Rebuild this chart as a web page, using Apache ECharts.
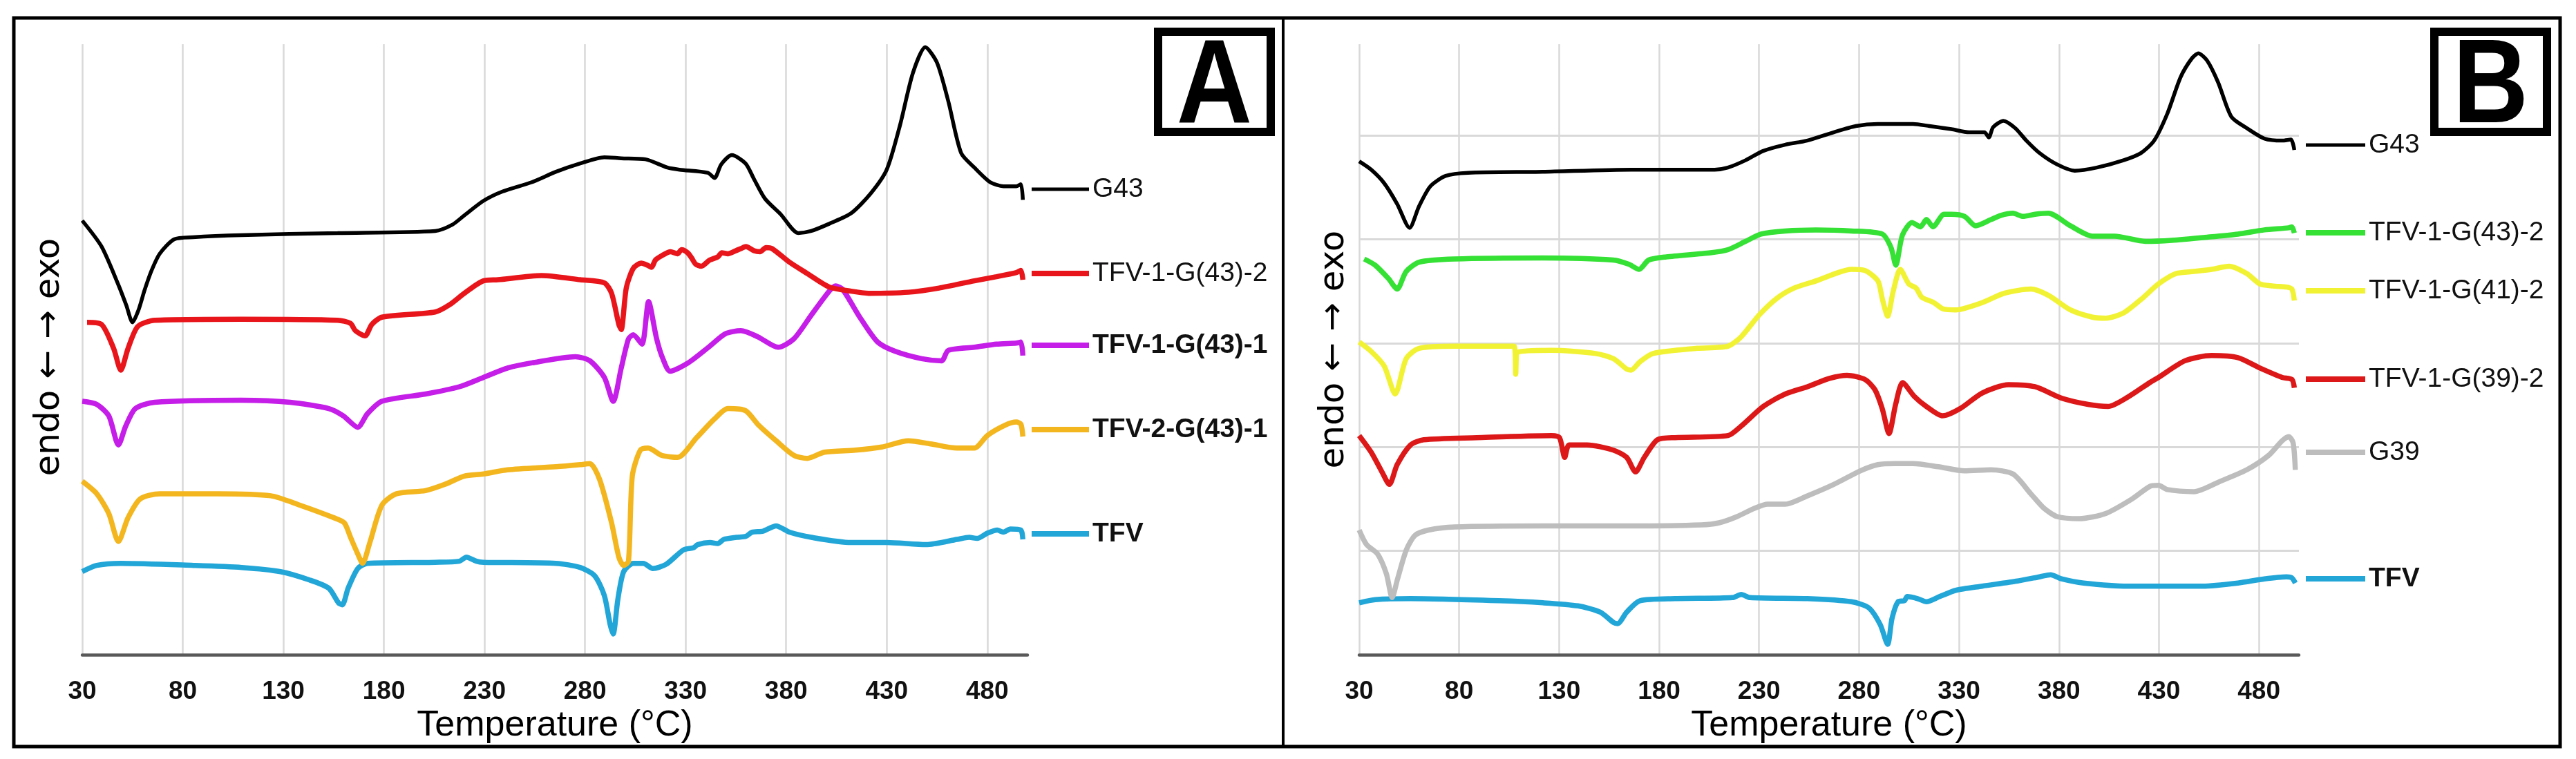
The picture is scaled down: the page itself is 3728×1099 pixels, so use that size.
<!DOCTYPE html>
<html>
<head>
<meta charset="utf-8">
<title>DSC thermograms A / B</title>
<script src="https://cdn.jsdelivr.net/npm/echarts@6/dist/echarts.min.js"></script>
<style>
  * { margin: 0; padding: 0; }
  html, body { background: #fff; }
  #main { width: 3728px; height: 1099px; }
</style>
</head>
<body>
<div id="main"></div>
<script>
// x axis: temperature in °C, labelled every 50 from 30
var xTicks = [30, 80, 130, 180, 230, 280, 330, 380, 430, 480];
var tMax = 500;
// y: heat flow, arbitrary units (curves are stacked with offsets), gridlines of panel B
var yGridB = [1, 2, 3, 4, 5];
var yMax = 5.878;

// ---- panel A ----
var a_G43 = [[30,4.18],[39.6,3.93],[48,3.56],[52,3.36],[55,3.20],[58,3.32],[61,3.51],[64.5,3.70],[68.5,3.86],[75.7,4.00],[85,4.02],[109,4.04],[157,4.06],[205.5,4.08],[214,4.14],[220,4.23],[229.5,4.37],[239,4.46],[253.6,4.55],[265.6,4.65],[277.6,4.73],[289.6,4.79],[298,4.78],[310,4.77],[321,4.69],[327,4.67],[341,4.64],[344.4,4.59],[347.7,4.72],[353,4.81],[359.8,4.73],[364,4.58],[369.5,4.39],[377.3,4.24],[386,4.06],[392.5,4.08],[401.5,4.15],[412.3,4.25],[422,4.44],[430,4.67],[436.5,5.09],[443,5.60],[449.2,5.85],[455,5.70],[460.6,5.33],[467,4.83],[473.6,4.69],[481.4,4.55],[488,4.51],[494.5,4.51],[496.7,4.53],[497.7,4.38]];
var a_T1G43_2 = [[32.4,3.20],[39.6,3.18],[45.6,2.95],[49.2,2.74],[52.8,2.95],[57.6,3.16],[66,3.22],[109,3.23],[157,3.22],[163.4,3.19],[165.8,3.12],[170.6,3.07],[174,3.18],[179,3.25],[205.5,3.30],[212.7,3.37],[220,3.48],[229.5,3.60],[236.7,3.61],[258.4,3.65],[277.6,3.61],[289.6,3.58],[293.2,3.48],[296.8,3.18],[298,3.13],[300.5,3.53],[304,3.72],[308,3.77],[311,3.75],[313,3.73],[315,3.80],[318,3.84],[322.5,3.88],[326,3.86],[328,3.90],[331,3.87],[333,3.82],[335,3.76],[337.8,3.74],[342,3.80],[346,3.83],[348,3.87],[351,3.86],[355,3.89],[357.5,3.91],[360,3.93],[364,3.89],[367,3.88],[370,3.92],[373,3.91],[381.6,3.78],[390.5,3.67],[401.4,3.54],[412.3,3.50],[421,3.48],[440.8,3.49],[456,3.53],[473.6,3.60],[484.6,3.64],[494.5,3.68],[496.7,3.70],[497.7,3.61]];
var a_T1G43_1 = [[30,2.44],[37.2,2.41],[43.2,2.30],[48,2.02],[51.6,2.20],[56.4,2.37],[66,2.43],[109,2.45],[133.4,2.43],[152.6,2.37],[159.8,2.30],[167,2.19],[171.8,2.32],[179,2.44],[200.7,2.51],[217.5,2.58],[229.5,2.67],[241.5,2.76],[253.6,2.81],[275.2,2.87],[282.4,2.83],[289.6,2.67],[294,2.44],[298,2.76],[301.6,3.04],[304,3.08],[308.3,2.99],[311.6,3.40],[315.5,3.05],[318.5,2.86],[322.3,2.73],[331.3,2.81],[342,2.97],[349.7,3.09],[357.5,3.12],[366,3.06],[376,2.96],[383.8,3.04],[392.5,3.27],[401.4,3.50],[404.6,3.55],[408,3.52],[416.6,3.25],[425.5,3.01],[434.3,2.92],[447.4,2.85],[457.3,2.83],[460.6,2.93],[473.6,2.96],[484.6,2.99],[494.5,3.00],[496.7,3.01],[497.7,2.88]];
var a_T2G43_1 = [[30,1.67],[37.2,1.55],[43.2,1.36],[48,1.09],[52.8,1.32],[58.8,1.50],[68.5,1.55],[97.3,1.55],[123.8,1.53],[138.2,1.44],[155,1.32],[160.3,1.27],[163.4,1.13],[167,0.97],[169.4,0.88],[173,1.08],[179,1.44],[186.3,1.55],[200.7,1.58],[210.3,1.64],[220,1.72],[229.5,1.74],[241.5,1.78],[265.6,1.81],[277.6,1.83],[282.4,1.84],[287.2,1.69],[293.2,1.27],[296.8,0.94],[299.2,0.86],[301.6,0.90],[303.5,1.72],[307.5,1.97],[311.4,1.99],[318,1.92],[326,1.90],[335.5,2.09],[344.4,2.27],[351,2.37],[359.8,2.35],[366.3,2.21],[375,2.06],[383.8,1.92],[390.5,1.89],[399,1.95],[414.5,1.97],[427.6,2.00],[440.8,2.06],[451.8,2.03],[465,1.99],[473.6,1.99],[480,2.11],[488.9,2.21],[494.5,2.24],[496.7,2.22],[497.7,2.10]];
var a_TFV = [[30,0.80],[37.2,0.86],[49.2,0.88],[85.3,0.86],[109.3,0.84],[128.6,0.80],[143,0.72],[152.6,0.64],[157.4,0.50],[159.3,0.48],[162.2,0.64],[167,0.83],[171.8,0.88],[205.5,0.89],[217.5,0.90],[221,0.94],[226,0.90],[229.5,0.89],[265.6,0.88],[277.6,0.84],[284.8,0.76],[289.6,0.57],[292.5,0.29],[294,0.20],[296.3,0.53],[299.2,0.80],[304,0.88],[309,0.88],[313.7,0.83],[320.3,0.87],[329,1.01],[334,1.03],[336,1.06],[342.2,1.08],[346,1.07],[349,1.11],[355.3,1.13],[360,1.14],[363,1.18],[368.5,1.19],[375,1.24],[381.6,1.18],[392.5,1.13],[412.3,1.08],[430,1.08],[449.5,1.06],[465,1.11],[471,1.13],[475,1.12],[480,1.17],[485,1.20],[488,1.18],[491.5,1.21],[496.7,1.20],[497.7,1.11]];

// ---- panel B ----
var b_G43 = [[30,4.75],[36,4.67],[42.5,4.54],[49,4.34],[55.2,4.11],[60,4.32],[65.6,4.51],[73.3,4.61],[84.4,4.64],[121.8,4.65],[166,4.67],[207.8,4.67],[214.4,4.69],[223.2,4.76],[232,4.85],[243,4.91],[254,4.95],[267.3,5.03],[278.4,5.09],[289.4,5.11],[307,5.11],[315.2,5.09],[326.2,5.06],[335,5.03],[342.7,5.03],[344.9,4.98],[347.1,5.08],[352.2,5.14],[358.1,5.07],[363.7,4.95],[370.3,4.83],[379.1,4.72],[387.9,4.66],[398.9,4.69],[412.2,4.76],[421,4.83],[427.6,4.95],[434.2,5.21],[440.8,5.56],[446.4,5.74],[449.7,5.79],[454.1,5.72],[459.6,5.51],[466.2,5.18],[473.9,5.07],[482.7,4.97],[491.6,4.95],[496,4.96],[497.7,4.86]];
var b_T1G43_2 = [[32.5,3.81],[38,3.75],[44.7,3.62],[49,3.52],[53.5,3.69],[60,3.78],[77.7,3.81],[121.8,3.82],[157,3.80],[164.8,3.76],[170,3.71],[174.8,3.80],[183.6,3.83],[205.7,3.87],[214.5,3.90],[223.3,3.98],[231,4.05],[243.1,4.08],[258.5,4.09],[276.2,4.08],[291.6,4.05],[296,3.92],[298.4,3.75],[301.7,4.04],[306.5,4.16],[310.7,4.12],[313.7,4.19],[317,4.12],[322.5,4.24],[326.2,4.24],[332.8,4.22],[338.3,4.13],[346,4.19],[351,4.23],[357,4.25],[362,4.22],[368,4.24],[374.7,4.25],[385.7,4.13],[396.7,4.03],[407.8,4.03],[423.2,3.98],[436.4,3.99],[454.1,4.02],[469.5,4.05],[482.7,4.09],[494.9,4.11],[496.5,4.12],[497.7,4.06]];
var b_T1G41_2 = [[30,3.01],[36,2.92],[42.5,2.78],[48,2.51],[53.5,2.85],[60,2.95],[77.7,2.97],[107.5,2.97],[108.3,2.70],[109.2,2.91],[126.3,2.93],[148.3,2.90],[157.2,2.85],[163.8,2.75],[166,2.74],[170.4,2.82],[177,2.90],[199,2.95],[214.4,2.97],[221,3.06],[230,3.27],[238.8,3.43],[247.5,3.53],[258.6,3.60],[269.6,3.68],[276.2,3.71],[282.8,3.70],[289.4,3.60],[291.6,3.43],[294.3,3.26],[297.1,3.50],[300.6,3.71],[304.9,3.57],[308.5,3.53],[311.5,3.44],[317.4,3.39],[322,3.33],[328.4,3.32],[341.6,3.39],[352.6,3.48],[365.9,3.52],[374.7,3.46],[385.7,3.32],[396.7,3.25],[403.4,3.24],[412.2,3.29],[421,3.42],[429.8,3.57],[438.6,3.67],[447.5,3.69],[456.3,3.71],[465.1,3.74],[473.9,3.67],[480.5,3.57],[487.1,3.55],[493.8,3.54],[496.5,3.52],[497.7,3.41]];
var b_T1G39_2 = [[30,2.11],[36,1.95],[41.4,1.76],[45.1,1.64],[49,1.83],[55.7,2.02],[62.3,2.07],[88.8,2.09],[126.2,2.11],[130.2,2.09],[132.8,1.90],[135,2.02],[143.9,2.02],[157.1,1.97],[163.8,1.90],[168.2,1.76],[172.6,1.90],[179.2,2.07],[188,2.09],[214.5,2.11],[221,2.20],[232.1,2.39],[243.1,2.51],[254.2,2.58],[265.2,2.66],[274,2.69],[283,2.65],[288,2.55],[291.6,2.37],[295,2.13],[298.3,2.41],[301.8,2.62],[307.5,2.49],[313.7,2.39],[321.8,2.30],[330.6,2.37],[341.6,2.52],[354.8,2.60],[368,2.58],[381.3,2.47],[394.5,2.41],[404.5,2.39],[414.4,2.48],[425.4,2.62],[429.8,2.67],[443,2.83],[456.3,2.88],[469.5,2.86],[480.5,2.76],[491.6,2.67],[496.5,2.65],[497.7,2.57]];
var b_G39 = [[30,1.20],[33.7,1.06],[39.2,0.97],[43.6,0.78],[46.5,0.55],[49.2,0.73],[53.6,1.01],[58,1.15],[64.6,1.20],[77.8,1.23],[121.9,1.24],[166,1.24],[201.2,1.25],[210,1.27],[219,1.33],[227.7,1.41],[234.3,1.45],[243.1,1.45],[254.2,1.53],[267.4,1.64],[280.6,1.77],[289.4,1.83],[298.2,1.84],[307,1.84],[319.6,1.81],[332.8,1.77],[346,1.78],[357,1.74],[365.9,1.55],[372.5,1.41],[379.1,1.33],[390.1,1.31],[403.4,1.36],[416.6,1.50],[425.4,1.62],[429.8,1.63],[434.2,1.59],[447.5,1.57],[460.7,1.67],[473.9,1.78],[484.9,1.92],[491.6,2.06],[494.9,2.10],[497.1,2.04],[498.2,1.78]];
var b_TFV = [[30,0.50],[38.1,0.53],[55.7,0.54],[99.8,0.52],[121.9,0.50],[139.5,0.47],[150.6,0.41],[157.2,0.31],[159.3,0.30],[163.8,0.41],[170.4,0.52],[188,0.54],[216.7,0.55],[221.1,0.58],[225.5,0.55],[254.2,0.54],[276.2,0.51],[285,0.45],[290.6,0.29],[294.3,0.10],[296.5,0.35],[299.5,0.51],[302.7,0.52],[304.1,0.56],[309.3,0.54],[313.7,0.51],[320.3,0.56],[328.4,0.62],[341.6,0.66],[359.3,0.71],[370.3,0.75],[375.8,0.77],[381.3,0.73],[392.3,0.69],[414.4,0.66],[436.4,0.66],[451.9,0.66],[469.5,0.69],[482.7,0.73],[493.8,0.75],[496.5,0.74],[498.2,0.69]];

var FONT = "'Liberation Sans', Arial, sans-serif";

// curve list per panel: [series name, data, colour, width, bold key text]
var curvesA = [
  ['G43', a_G43, '#000000', 5.5, false],
  ['TFV-1-G(43)-2', a_T1G43_2, '#e8161b', 7.5, false],
  ['TFV-1-G(43)-1', a_T1G43_1, '#c41ee8', 7.5, true],
  ['TFV-2-G(43)-1', a_T2G43_1, '#f3b61f', 7.5, true],
  ['TFV', a_TFV, '#22a6d8', 7.5, true]
];
var curvesB = [
  ['G43', b_G43, '#000000', 5.5, false],
  ['TFV-1-G(43)-2', b_T1G43_2, '#36e136', 7.5, false],
  ['TFV-1-G(41)-2', b_T1G41_2, '#f2f234', 7.5, false],
  ['TFV-1-G(39)-2', b_T1G39_2, '#dc1818', 7.5, false],
  ['G39', b_G39, '#bdbdbd', 7.5, false],
  ['TFV', b_TFV, '#22a6d8', 7.5, true]
];
// key (legend) vertical centres in pixels
var keyYA = [274, 396, 500, 622, 773];
var keyYB = [210, 337, 421, 549, 655, 838];

var chart = echarts.init(document.getElementById('main'));

function xAxisFor(gi) {
  return {
    gridIndex: gi, type: 'value', min: xTicks[0], max: tMax,
    interval: xTicks[1] - xTicks[0],
    axisLine: { show: true, onZero: false, lineStyle: { color: '#595959', width: 4.5 } },
    axisTick: { show: false },
    axisLabel: { margin: 35, fontSize: 37, fontWeight: 'bold', color: '#111',
                 fontFamily: FONT, showMaxLabel: false },
    splitLine: { show: true, showMaxLine: false, lineStyle: { color: '#d9d9d9', width: 2.5 } },
    name: 'Temperature (°C)', nameLocation: 'middle', nameGap: 68,
    nameTextStyle: { fontSize: 52, color: '#000', fontFamily: FONT }
  };
}

var series = [];
var legends = [];
function addPanel(tag, curves, keyY, gi, keyLeft, keyW) {
  curves.forEach(function (c, i) {
    var nm = tag + '|' + c[0];
    series.push({
      name: nm, type: 'line', xAxisIndex: gi, yAxisIndex: gi,
      data: c[1], showSymbol: false, smooth: 0.25,
      color: c[2], lineStyle: { color: c[2], width: c[3] },
      emphasis: { disabled: true }, z: 10 - i
    });
    legends.push({
      data: [nm], left: keyLeft, top: keyY[i] - 22, padding: 0,
      selectedMode: false, icon: 'rect', itemWidth: keyW,
      itemHeight: c[2] === '#000000' ? 5 : 8,
      formatter: function (n) { return n.split('|')[1]; },
      textStyle: { fontSize: 39, lineHeight: 44, color: '#111', fontFamily: FONT,
                   fontWeight: c[4] ? 'bold' : 'normal' }
    });
  });
}
addPanel('A', curvesA, keyYA, 0, 1493, 83);
addPanel('B', curvesB, keyYB, 1, 3337, 86);

function yTitle(x, y) {
  return { type: 'text', x: x, y: y, rotation: Math.PI / 2,
    style: { text: 'endo ← → exo', font: "50px 'DejaVu Sans', sans-serif", fill: '#000',
             textAlign: 'center', textVerticalAlign: 'middle' } };
}
function letterBox(x, letter) {
  return [
    { type: 'rect', shape: { x: x + 6, y: 46, width: 163, height: 145 },
      style: { fill: '#fff', stroke: '#000', lineWidth: 12 } },
    { type: 'text', x: x + 87.5, y: 130, scaleX: 0.88,
      style: { text: letter, font: 'bold 172px ' + FONT, fill: '#000',
               textAlign: 'center', textVerticalAlign: 'middle' } }
  ];
}

var option = {
  backgroundColor: '#fff',
  animation: false,
  grid: [
    { left: 119, top: 64, width: 1368, height: 884 },
    { left: 1967, top: 64, width: 1360, height: 884 }
  ],
  xAxis: [xAxisFor(0), xAxisFor(1)],
  yAxis: [
    { gridIndex: 0, type: 'value', min: 0, max: yMax, show: false },
    { gridIndex: 1, type: 'value', min: 0, max: yMax, interval: yGridB[1] - yGridB[0],
      axisLine: { show: false }, axisTick: { show: false }, axisLabel: { show: false },
      splitLine: { show: true, showMinLine: false, showMaxLine: false,
                   lineStyle: { color: '#d9d9d9', width: 3 } } }
  ],
  legend: legends,
  series: series,
  graphic: [
    { type: 'rect', shape: { x: 20, y: 26, width: 3685, height: 1055 },
      style: { fill: null, stroke: '#000', lineWidth: 5 }, z: 100 },
    { type: 'line', shape: { x1: 1857, y1: 26, x2: 1857, y2: 1081 },
      style: { stroke: '#000', lineWidth: 4 }, z: 100 },
    yTitle(72, 517),
    yTitle(1931, 506)
  ].concat(letterBox(1670, 'A'), letterBox(3517, 'B'))
};
chart.setOption(option);
</script>
</body>
</html>
